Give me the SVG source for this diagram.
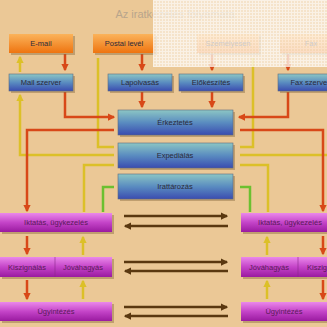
<svg xmlns="http://www.w3.org/2000/svg" width="327" height="327" viewBox="0 0 327 327">
<defs>
<linearGradient id="gOr" x1="0" y1="0" x2="0" y2="1"><stop offset="0" stop-color="#fbb35a"/><stop offset="1" stop-color="#ee7410"/></linearGradient>
<linearGradient id="gBl" x1="0" y1="0" x2="0" y2="1"><stop offset="0" stop-color="#8cc6c4"/><stop offset="0.5" stop-color="#5a8cc0"/><stop offset="1" stop-color="#3a4cb0"/></linearGradient>
<linearGradient id="gPu" x1="0" y1="0" x2="0" y2="1"><stop offset="0" stop-color="#ea88ea"/><stop offset="0.5" stop-color="#c444c8"/><stop offset="1" stop-color="#9a1aa0"/></linearGradient>
<pattern id="grid" width="3" height="3" patternUnits="userSpaceOnUse"><rect width="3" height="3" fill="#ffffff" fill-opacity="0.75"/><rect x="1" y="1" width="2" height="2" fill="#ebc896" fill-opacity="0.35"/></pattern>
<marker id="aR" viewBox="0 0 6 6" refX="5" refY="3" markerWidth="3" markerHeight="3" orient="auto"><path d="M0,0L6,3L0,6z" fill="#d84818"/></marker>
<marker id="aY" viewBox="0 0 6 6" refX="5" refY="3" markerWidth="3" markerHeight="3" orient="auto"><path d="M0,0L6,3L0,6z" fill="#dcc028"/></marker>
<marker id="aB" viewBox="0 0 6 6" refX="5" refY="3" markerWidth="3" markerHeight="3" orient="auto"><path d="M0,0L6,3L0,6z" fill="#5a3810"/></marker>
</defs>
<style>
.or{fill:url(#gOr)}
.bl{fill:url(#gBl);stroke:#5a6a80;stroke-width:0.6}
.pu{fill:url(#gPu)}
.sh{fill:#8a6a40;opacity:0.45}
.t{font-family:"Liberation Sans",Arial,sans-serif;font-size:7.5px;text-anchor:middle;fill:#2a2a3a}
.tp{font-family:"Liberation Sans",Arial,sans-serif;font-size:7.5px;text-anchor:middle;fill:#5a1a5a}
.r{fill:none;stroke:#d84818;stroke-width:2.5}
.y{fill:none;stroke:#dcc028;stroke-width:2.5}
.g{fill:none;stroke:#6cc030;stroke-width:2.5}
.b{fill:none;stroke:#5a3810;stroke-width:2.5}
</style>
<rect width="327" height="327" fill="#ebc896"/>
<text x="175" y="18" font-family="Liberation Sans,Arial,sans-serif" font-size="11" text-anchor="middle" fill="#b8a58c">Az iratkezelés folyamata</text>

<g id="connectors">
<path class="r" d="M65,54V70" marker-end="url(#aR)"/>
<path class="y" d="M20,72V57" marker-end="url(#aY)"/>
<path class="r" d="M142,54V70" marker-end="url(#aR)"/>
<path class="r" d="M212,54V70" marker-end="url(#aR)"/>
<path class="r" d="M288,54V70" marker-end="url(#aR)"/>
<path class="y" d="M114,147H98V58"/>
<path class="y" d="M240,147H253V58"/>
<path class="r" d="M142,92V107" marker-end="url(#aR)"/>
<path class="r" d="M212,92V107" marker-end="url(#aR)"/>
<path class="r" d="M65,92V117H114" marker-end="url(#aR)"/>
<path class="r" d="M288,92V117H239" marker-end="url(#aR)"/>
<path class="y" d="M114,155H20V95" marker-end="url(#aY)"/>
<path class="y" d="M240,155H327"/>
<path class="r" d="M114,130H27V211" marker-end="url(#aR)"/>
<path class="r" d="M240,130H323V211" marker-end="url(#aR)"/>
<path class="y" d="M114,165H84V212"/>
<path class="y" d="M240,165H268V212"/>
<path class="g" d="M114,187H103V212"/>
<path class="g" d="M240,187H250V212"/>
<path class="r" d="M27,236V254" marker-end="url(#aR)"/>
<path class="y" d="M83,255V237" marker-end="url(#aY)"/>
<path class="r" d="M27,280V299" marker-end="url(#aR)"/>
<path class="y" d="M83,299V281" marker-end="url(#aY)"/>
<path class="y" d="M267,255V237" marker-end="url(#aY)"/>
<path class="r" d="M323,236V254" marker-end="url(#aR)"/>
<path class="y" d="M267,299V281" marker-end="url(#aY)"/>
<path class="r" d="M323,280V299" marker-end="url(#aR)"/>
<path class="b" d="M124,216H227" marker-end="url(#aB)"/>
<path class="b" d="M228,226H125" marker-end="url(#aB)"/>
<path class="b" d="M124,262H227" marker-end="url(#aB)"/>
<path class="b" d="M228,271H125" marker-end="url(#aB)"/>
<path class="b" d="M124,307H227" marker-end="url(#aB)"/>
<path class="b" d="M228,316H125" marker-end="url(#aB)"/>
</g>

<g id="email"><rect class="sh" x="11" y="36" width="64" height="19"/><rect class="or" x="9" y="34" width="64" height="19"/><text class="t" x="41" y="46">E-mail</text></g>
<g id="postai"><rect class="sh" x="95" y="36" width="62" height="19"/><rect class="or" x="93" y="34" width="62" height="19"/><text class="t" x="124" y="46">Postai levél</text></g>
<g id="szemelyes"><rect class="sh" x="199" y="36" width="62" height="19"/><rect class="or" x="197" y="34" width="62" height="19"/><text class="t" x="228" y="46">Személyesen</text></g>
<g id="fax"><rect class="sh" x="282" y="36" width="62" height="19"/><rect class="or" x="280" y="34" width="62" height="19"/><text class="t" x="311" y="46">Fax</text></g>

<g id="mailszerver"><rect class="sh" x="11" y="76" width="64" height="17"/><rect class="bl" x="9" y="74" width="64" height="17"/><text class="t" x="41" y="85">Mail szerver</text></g>
<g id="lapolvasas"><rect class="sh" x="110" y="76" width="64" height="17"/><rect class="bl" x="108" y="74" width="64" height="17"/><text class="t" x="140" y="85">Lapolvasás</text></g>
<g id="elokeszites"><rect class="sh" x="181" y="76" width="64" height="17"/><rect class="bl" x="179" y="74" width="64" height="17"/><text class="t" x="211" y="85">Előkészítés</text></g>
<g id="faxszerver"><rect class="sh" x="280" y="76" width="64" height="17"/><rect class="bl" x="278" y="74" width="64" height="17"/><text class="t" x="310" y="85">Fax szerver</text></g>

<g id="erkeztetes"><rect class="sh" x="120" y="112" width="115" height="25"/><rect class="bl" x="118" y="110" width="115" height="25"/><text class="t" x="175" y="125">Érkeztetés</text></g>
<g id="expedialas"><rect class="sh" x="120" y="145" width="115" height="25"/><rect class="bl" x="118" y="143" width="115" height="25"/><text class="t" x="175" y="158">Expediálás</text></g>
<g id="irattarozas"><rect class="sh" x="120" y="176" width="115" height="25"/><rect class="bl" x="118" y="174" width="115" height="25"/><text class="t" x="175" y="189">Irattározás</text></g>

<g id="iktatas-bal"><rect class="sh" x="2" y="215" width="112" height="19"/><rect class="pu" x="0" y="213" width="112" height="19"/><text class="tp" x="56" y="225">Iktatás, ügykezelés</text></g>
<g id="iktatas-jobb"><rect class="sh" x="243" y="215" width="90" height="19"/><rect class="pu" x="241" y="213" width="90" height="19"/><text class="tp" x="290" y="225">Iktatás, ügykezelés</text></g>

<g id="kiszignalas-bal"><rect class="sh" x="2" y="259" width="55" height="20"/><rect class="pu" x="0" y="257" width="55" height="20"/><text class="tp" x="27" y="269.5">Kiszignálás</text></g>
<g id="jovahagyas-bal"><rect class="sh" x="57" y="259" width="57" height="20"/><rect class="pu" x="55" y="257" width="57" height="20"/><line x1="55" y1="257" x2="55" y2="277" stroke="#8a2a8a" stroke-width="0.6"/><text class="tp" x="83" y="269.5">Jóváhagyás</text></g>
<g id="jovahagyas-jobb"><rect class="sh" x="243" y="259" width="57" height="20"/><rect class="pu" x="241" y="257" width="57" height="20"/><text class="tp" x="269" y="269.5">Jóváhagyás</text></g>
<g id="kiszignalas-jobb"><rect class="sh" x="300" y="259" width="55" height="20"/><rect class="pu" x="298" y="257" width="55" height="20"/><line x1="298" y1="257" x2="298" y2="277" stroke="#8a2a8a" stroke-width="0.6"/><text class="tp" x="326" y="269.5">Kiszignálás</text></g>

<g id="ugyintezes-bal"><rect class="sh" x="2" y="304" width="112" height="19"/><rect class="pu" x="0" y="302" width="112" height="19"/><text class="tp" x="56" y="314">Ügyintézés</text></g>
<g id="ugyintezes-jobb"><rect class="sh" x="243" y="304" width="90" height="19"/><rect class="pu" x="241" y="302" width="90" height="19"/><text class="tp" x="284" y="314">Ügyintézés</text></g>

<rect x="153" y="0" width="174" height="67" fill="url(#grid)"/>
</svg>
